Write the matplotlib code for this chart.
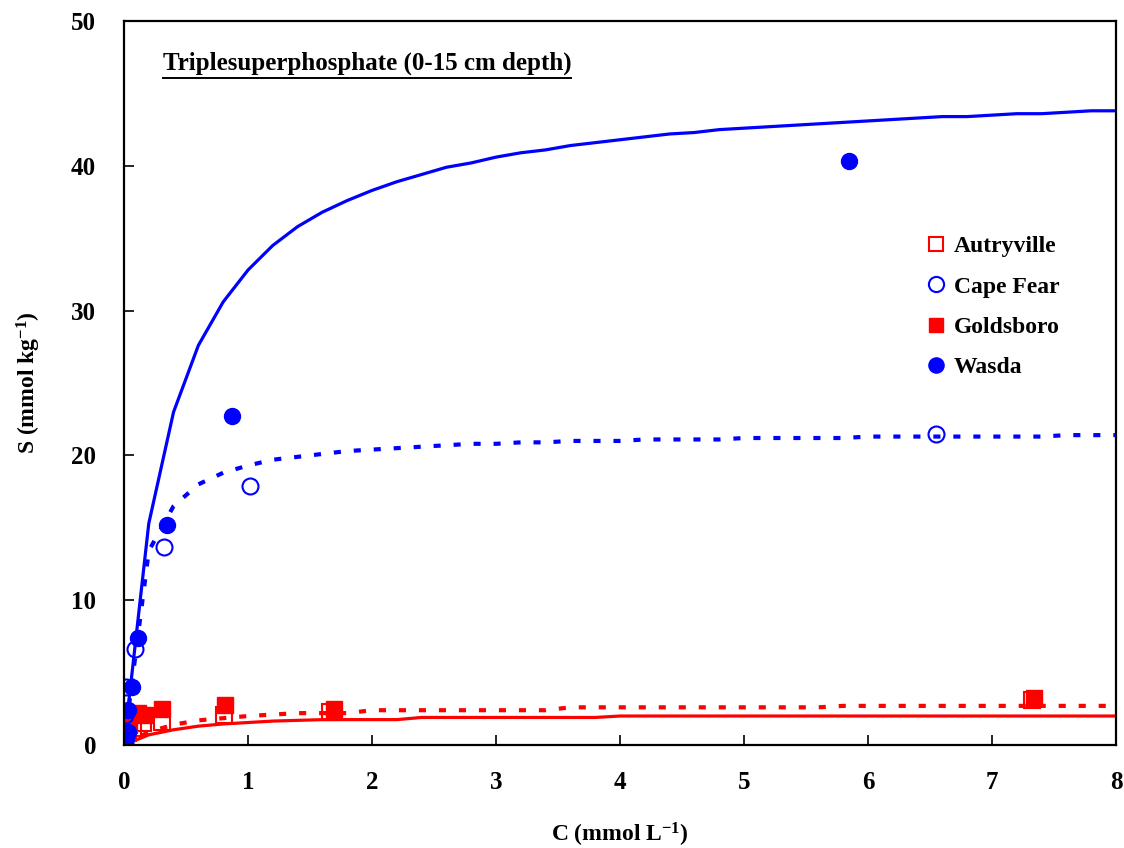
import numpy as np
import matplotlib.pyplot as plt

plt.rcParams['font.family'] = ['Liberation Serif', 'DejaVu Serif']
plt.rcParams['font.weight'] = 'bold'
plt.rcParams['axes.labelweight'] = 'bold'
plt.rcParams['mathtext.fontset'] = 'custom'
plt.rcParams['mathtext.rm'] = 'Liberation Serif:bold'
plt.rcParams['mathtext.bf'] = 'Liberation Serif:bold'
plt.rcParams['mathtext.default'] = 'bf'

# measured points (C in mmol/L, S in mmol/kg)
autry_c = [0.01, 0.03, 0.07, 0.15, 0.31, 0.81, 1.66, 7.32]
autry_s = [0.4, 0.8, 1.2, 1.5, 1.6, 2.1, 2.3, 3.1]
cape_c = [0.005, 0.005, 0.01, 0.015, 0.09, 0.32, 1.02, 6.55]
cape_s = [0.1, 0.5, 2.1, 4.0, 6.6, 13.7, 17.9, 21.5]
golds_c = [0.01, 0.04, 0.11, 0.17, 0.31, 0.815, 1.69, 7.34]
golds_s = [0.8, 1.4, 2.2, 2.1, 2.45, 2.75, 2.45, 3.25]
wasda_c = [0.02, 0.035, 0.035, 0.062, 0.115, 0.35, 0.875, 5.85]
wasda_s = [0.5, 0.92, 2.42, 3.97, 7.39, 15.2, 22.7, 40.3]

# fitted curves, every 0.2 mmol/L
fit_c = [round(0.2 * i, 1) for i in range(41)]
wasda_fit = [0, 15.3, 23.0, 27.6, 30.6, 32.8, 34.5, 35.8, 36.8, 37.6, 38.3,
             38.9, 39.4, 39.9, 40.2, 40.6, 40.9, 41.1, 41.4, 41.6, 41.8,
             42.0, 42.2, 42.3, 42.5, 42.6, 42.7, 42.8, 42.9, 43.0, 43.1,
             43.2, 43.3, 43.4, 43.4, 43.5, 43.6, 43.6, 43.7, 43.8, 43.8]
cape_fit = [0, 13.4, 16.5, 18.0, 18.8, 19.3, 19.7, 19.9, 20.1, 20.3, 20.4,
            20.5, 20.6, 20.7, 20.8, 20.8, 20.9, 20.9, 21.0, 21.0, 21.0,
            21.1, 21.1, 21.1, 21.1, 21.2, 21.2, 21.2, 21.2, 21.2, 21.3,
            21.3, 21.3, 21.3, 21.3, 21.3, 21.3, 21.3, 21.4, 21.4, 21.4]
autry_fit = [0, 0.9, 1.4, 1.7, 1.85, 2.0, 2.1, 2.2, 2.2, 2.2, 2.4,
             2.4, 2.4, 2.4, 2.4, 2.4, 2.4, 2.4, 2.6, 2.6, 2.6,
             2.6, 2.6, 2.6, 2.6, 2.6, 2.6, 2.6, 2.6, 2.7, 2.7,
             2.7, 2.7, 2.7, 2.7, 2.7, 2.7, 2.7, 2.7, 2.7, 2.7]
golds_fit = [0, 0.7, 1.05, 1.3, 1.45, 1.55, 1.65, 1.7, 1.75, 1.75, 1.75,
             1.75, 1.9, 1.9, 1.9, 1.9, 1.9, 1.9, 1.9, 1.9, 2.0,
             2.0, 2.0, 2.0, 2.0, 2.0, 2.0, 2.0, 2.0, 2.0, 2.0,
             2.0, 2.0, 2.0, 2.0, 2.0, 2.0, 2.0, 2.0, 2.0, 2.0]

blue = '#0000ff'
red = '#ff0000'
dash = (0, (1.7, 3.1))

fig = plt.figure(figsize=(11.24, 8.48), dpi=100)
ax = fig.add_axes([0.1103, 0.1215, 0.8826, 0.8537])

ax.plot(fit_c, wasda_fit, color=blue, lw=2.3)
ax.plot(fit_c, cape_fit, color=blue, lw=3, linestyle=dash)
ax.plot(fit_c, golds_fit, color=red, lw=2.3)
ax.plot(fit_c, autry_fit, color=red, lw=3, linestyle=dash)

ax.plot(golds_c, golds_s, 's', color=red, ms=11, label='Goldsboro_')
ax.plot(autry_c, autry_s, 's', mfc='none', mec=red, mew=1.5, ms=11, label='Autryville_')
ax.plot(cape_c, cape_s, 'o', mfc='none', mec=blue, mew=1.5, ms=11.5, label='Cape Fear_')
ax.plot(wasda_c, wasda_s, 'o', color=blue, ms=11.5, label='Wasda_')

# legend in the original order
h, l = ax.get_legend_handles_labels()
order = [1, 2, 0, 3]
leg = ax.legend([h[i] for i in order], ['Autryville', 'Cape Fear', 'Goldsboro', 'Wasda'],
                loc='upper left', bbox_to_anchor=(0.788, 0.733), frameon=False,
                fontsize=17, handlelength=0.8, handletextpad=0.35, labelspacing=0.8,
                markerscale=0.95)

ax.set_xlim(0, 8)
ax.set_ylim(0, 50)
ax.set_xticks(range(0, 9))
ax.set_yticks(range(0, 51, 10))
ax.tick_params(direction='in', length=7, width=1.2, labelsize=18, top=False, right=False)
ax.tick_params(axis='x', pad=19)
ax.tick_params(axis='y', pad=20)
for s in ax.spines.values():
    s.set_linewidth(1.6)

ax.set_xlabel(r'C (mmol L$^{-1}$)', fontsize=17, fontweight='bold', labelpad=19)
ax.set_ylabel(r'S (mmol kg$^{-1}$)', fontsize=17, fontweight='bold', labelpad=20)

title = ax.text(0.039, 0.933, 'Triplesuperphosphate (0-15 cm depth)', transform=ax.transAxes,
                fontsize=18, fontweight='bold', ha='left', va='baseline')
fig.canvas.draw()
bb = title.get_window_extent().transformed(ax.transAxes.inverted())
ax.plot([bb.x0, bb.x1], [bb.y0 - 0.004, bb.y0 - 0.004], color='black', lw=1.4,
        transform=ax.transAxes, clip_on=False)

fig.savefig('out.png', dpi=100)
